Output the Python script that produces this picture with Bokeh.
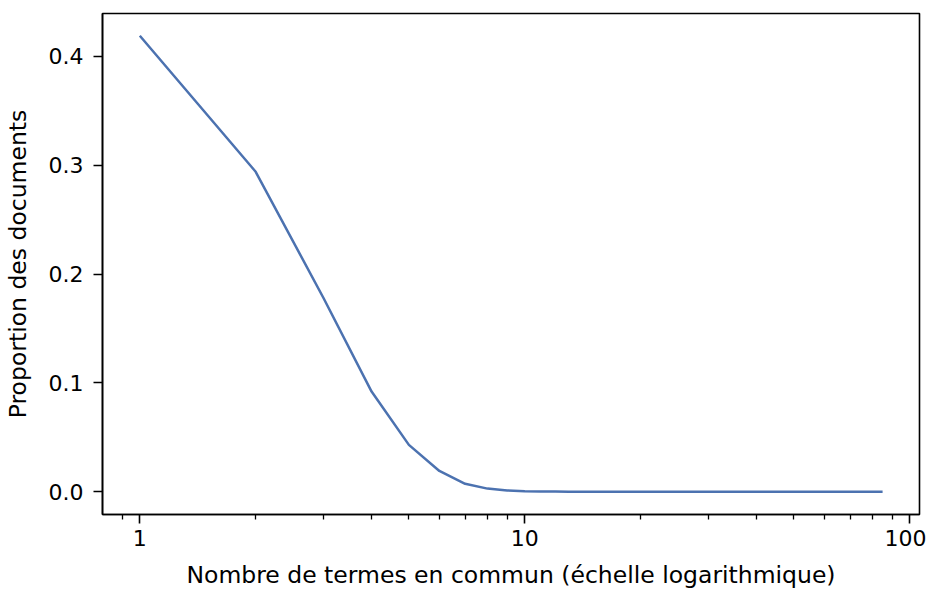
from bokeh.plotting import figure
from bokeh.models import Range1d, FixedTicker, PrintfTickFormatter, ColumnDataSource
from bokeh.embed import file_html
from bokeh.resources import INLINE

# Data
n_terms = [1, 2, 3, 4, 5, 6, 7, 8, 9, 10, 11, 12, 13, 14, 15, 16, 18, 20,
           25, 30, 35, 40, 45, 50, 55, 60, 65, 70, 75, 80, 85]
proportion = [0.419, 0.294, 0.178, 0.092, 0.043, 0.019, 0.0072, 0.0028,
              0.0011, 0.0004, 0.0002, 0.0001, 0.0, 0.0, 0.0, 0.0, 0.0, 0.0,
              0.0, 0.0, 0.0, 0.0, 0.0, 0.0, 0.0, 0.0, 0.0, 0.0, 0.0, 0.0, 0.0]

x_major = [1, 10, 100]
x_major_labels = {1: "1", 10: "10", 100: "100"}
x_minor = [0.9, 2, 3, 4, 5, 6, 7, 8, 9, 20, 30, 40, 50, 60, 70, 80, 90]
y_ticks = [0.0, 0.1, 0.2, 0.3, 0.4]

x_title = "Nombre de termes en commun (échelle logarithmique)"
y_title = "Proportion des documents"

FONT = "DejaVu Sans"

p = figure(width=926, height=594, x_axis_type="log",
           x_range=Range1d(0.8, 106), y_range=Range1d(-0.021, 0.4395),
           output_backend="svg", toolbar_location=None,
           min_border_left=102, min_border_right=7, min_border_top=13,
           min_border_bottom=80)

src = ColumnDataSource(dict(x=n_terms, y=proportion))
p.line("x", "y", source=src, line_color="#4c72b0", line_width=2.5)

p.grid.visible = False
p.outline_line_color = "black"
p.outline_line_width = 1.6
p.outline_line_alpha = 1.0

p.xaxis.ticker = FixedTicker(ticks=x_major, minor_ticks=x_minor)
p.xaxis.major_label_overrides = x_major_labels
p.yaxis.ticker = FixedTicker(ticks=y_ticks, minor_ticks=[])
p.yaxis.formatter = PrintfTickFormatter(format="%.1f")

for ax in (p.xaxis, p.yaxis):
    ax.axis_line_color = "black"
    ax.axis_line_width = 1.6
    ax.major_tick_line_color = "black"
    ax.major_tick_line_width = 1.6
    ax.minor_tick_line_color = "black"
    ax.minor_tick_line_width = 1.3
    ax.major_tick_in = 0
    ax.major_tick_out = 9
    ax.minor_tick_in = 0
    ax.minor_tick_out = 5
    ax.major_label_text_font = FONT
    ax.major_label_text_font_size = "22px"
    ax.major_label_text_color = "black"
    ax.axis_label_text_font = FONT
    ax.axis_label_text_font_size = "23.5px"
    ax.axis_label_text_font_style = "normal"
    ax.axis_label_text_color = "black"

p.xaxis.major_label_standoff = 6
p.yaxis.major_label_standoff = 10
p.xaxis.axis_label = x_title
p.yaxis.axis_label = y_title
p.xaxis.axis_label_standoff = 12
p.yaxis.axis_label_standoff = 14

open("out.html", "w").write(file_html(p, INLINE))
